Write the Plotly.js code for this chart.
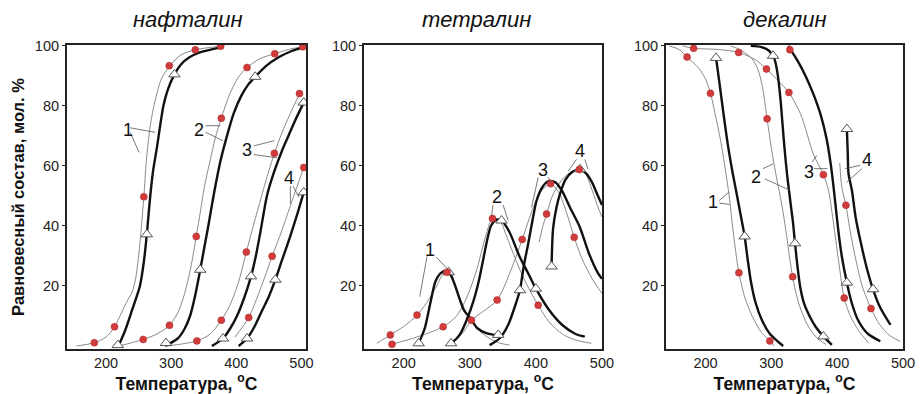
<!DOCTYPE html>
<html>
<head>
<meta charset="utf-8">
<script src="https://cdn.plot.ly/plotly-3.0.1.min.js"></script>
<style>html,body{margin:0;padding:0;background:#fff;}#chart{width:920px;height:394px;}</style>
</head>
<body>
<div id="chart"></div>
<script>
// ---------- Panel titles / axis labels ----------
const panelTitles = ['нафталин', 'тетралин', 'декалин'];
const xTitle = '<b>Температура, <sup>o</sup>C</b>';
const yTitle = '<b>Равновесный состав, мол. %</b>';
const xTicks = [200, 300, 400, 500];
const yTicks = [20, 40, 60, 80, 100];
const seriesNames = ['1', '2', '3', '4'];

// ---------- нафталин ----------
const naphThinX = [
  [155,182,200,213,230,240,245,250,254,258,262,267,273,285,298,315,337,376],
  [220,257,280,297.4,310,320,330,338.5,345,351,360,368,377,390,403,416.5,437,459,480,502],
  [293,320,339.5,360,377,390,403,415.4,426,435,446,458.5,470,483,497],
  [398,419,437,455,470,485,503.6]
];
const naphThinY = [
  [0,1.1,3,6.4,14,18,22,30,39,49.7,62,72,79.5,89,93.4,97,98.7,99.9],
  [0,2.2,4.2,6.9,11,17,26,36.5,45,53,62,69.5,75.9,84,89.5,92.8,95.8,97.4,98.8,99.7],
  [0,0.8,1.7,4,8.6,13.5,21,31.3,40,47,55.5,64.2,71,77.5,84.1],
  [3,9.5,19,29.9,38.5,48,59.5]
];
const naphDotX = [[182,213,258,297,337,376],[257,297.4,338.5,377,416.5,459,502],[339.5,377,415.4,458.5,497],[419,455,503.6]];
const naphDotY = [[1.1,6.4,49.7,93.4,98.7,99.9],[2.2,6.9,36.5,75.9,92.8,97.4,99.7],[1.7,8.6,31.3,64.2,84.1],[9.5,29.9,59.5]];
const naphBoldX = [
  [219,229,240,252,258,262.6,267,272,278,288,295,305,315,328,345,377],
  [291,310,320,329,337,344.6,351,357,365,375,385.7,396,408,418,429,445,465,485,505],
  [362.5,379.5,391,401,412,422.6,430,437,447,458,470,480,490,503.5],
  [403.6,416.5,428,440,450,460,470,482,493,503.5]
];
const naphBoldY = [
  [0,5,12,20,28,37.2,48,58,66,80,85.5,90.5,93.8,96.2,97.9,99.5],
  [0,2.5,5.5,10,17,25.4,33,40,50,61,70,77.5,83.5,87,89.7,93.2,96.2,98.3,99.7],
  [0,2.5,6,10,16,23.2,30,38,50,58,65,70,75,81.1],
  [0,2.5,6.5,12,16.5,22.1,28.5,36,43.5,51.2]
];
const naphTriX = [[218,262.6,305],[292,344.6,429],[379.5,422.6,503.5],[416.5,460,503.5]];
const naphTriY = [[0.3,37.2,90.5],[1,25.4,89.7],[2.5,23.2,81.1],[2.5,22.1,51.2]];

// ---------- тетралин ----------
const tetrThinX = [
  [159.5,179.8,200,220.2,235,250,258,265.6,275,285,294,302.5,315,330,345,360],
  [182.3,220,259.6,280,295,310,322,334.4,345,355,370,385,403.5,420,440,460,484],
  [275,290,302.5,320,341.4,360,379.3,395,408,422.3,435,447,458,470,485,500],
  [405,410,416.2,425,438,451.5,465.7,475,485,494.4,500]
];
const tetrThinY = [
  [0.9,3.7,6.5,10.3,14.5,20,23.5,24.6,21.5,16,11.5,8.6,5,2.5,1,0.3],
  [0.6,3,6.4,10,16,25,35,42.5,42,37,28.5,21,13.6,8,4,2,0.9],
  [1,4.5,8.6,11.5,15.3,24,35.5,45.5,51.5,54.1,51,44,36.2,29,22.5,17.5],
  [34.6,39.5,44,50,55,57.8,59,57.5,52,46,43]
];
const tetrDotX = [[179.8,220.2,265.6],[182.3,259.6,334.4,403.5],[302.5,341.4,379.3,422.3,458],[416.2,465.7]];
const tetrDotY = [[3.7,10.3,24.6],[0.6,6.4,42.5,13.6],[8.6,15.3,35.5,54.1,36.2],[44,58.8]];
const tetrBoldX = [
  [222.7,232,240,248,256,264,270,278,290.9,300,311,325,343],
  [271.7,280,286,295,306,314,320,326,332,340,348,360,375,390,400,420,440,460,474],
  [330,345,358,368,375.8,382,388.3,395,401,410,420,430,440,452,466.7,480,494.4,500],
  [423.7,426,431,436.4,445,455,466.7,476,485,492,500]
];
const tetrBoldY = [
  [0.9,6,14,21.5,24.3,25,24.3,20,12,9.5,6,4.3,3.5],
  [0.9,2.5,4.2,8.5,15.3,22,28.5,35,40,42,41.8,38,30,23.5,19.1,12,7,4,3.1],
  [0.3,2.5,7,13,18.6,27,34,42,48.4,53,55,54.5,51.5,46,39.5,31,24.1,22.4],
  [26.5,39,46,50.6,55.5,58,58.9,57.5,54.5,51,47]
];
const tetrTriX = [[222.7,268,343],[271.7,348,400],[375.8],[423.7,466.7]];
const tetrTriY = [[0.9,24.6,3.7],[0.9,41.8,19.1],[18.6],[26.5,58.9]];

// ---------- декалин ----------
const decThinX = [
  [145,160,172,190,200,207.6,215,223,230,236,241,245,250.8,260,271.3,285,297.7,304],
  [238,255,271,280,286.6,293.6,300,308,316,322,332.4,342,355,368,383],
  [165,182,220,250.4,275,292.6,310,326.7,345,363.8,379.1,386.8,395,403,410.7,420,433,447.8],
  [404,407,413.3,420,427.5,438,451.4,465,480,496]
];
const decThinY = [
  [100,98.8,96.3,92.5,89,84.2,77,68.4,59,50,40,33,24.4,16,9.8,4.5,1.7,0],
  [100,98.5,95.6,92,86.2,75.7,66,56,47,38.6,23,14,7,3,0.5],
  [100,99.2,98.8,97.8,95.5,92.3,88.5,84.5,77,64,57.1,51.9,40,27,16,10,5,1],
  [61,53,46.9,38,29.7,20,12.5,7,3.5,1.5]
];
const decDotX = [[172,207.6,250.8,297.7],[182,293.6,332.4],[250.4,292.6,326.7,328.2,379.1,410.7],[413.3,451.4]];
const decDotY = [[96.3,84.2,24.4,1.7],[99.2,75.7,23.1],[97.8,92.3,84.5,98.7,57.1,16],[46.9,12.5]];
const decBoldX = [
  [216,221,227,234,241,248,254,259.5,264,269,276,286,298,318],
  [268.7,285,297,305,310,314,317,320,324,329,333,336,340,344,350,358,367,379.1,392],
  [326,330,340,352,363.8,375,384,390,394,398,402,407,414.8,422,432,447,465.6],
  [414.8,416,417.3,422.4,428,435.1,445,454.5,465,481]
];
const decBoldY = [
  [96,88,78,67,58,50,43,36.5,29,21.5,14.5,8.5,4,0],
  [100,99.6,98.3,95.5,90,82,74,66,57,48,41,34.2,26,19.5,14,10,6.5,3.2,0.4],
  [100,98.5,95,90,84,77,69,61,54,46,38,30,21.1,14.5,8.5,4,1.6],
  [72.3,65,57.4,51.9,43,35.3,26,18.9,13,7]
];
const decTriX = [[216,259.5],[302.7,336,379.1],[414.8],[414.8,454.5]];
const decTriY = [[96,36.5],[96.7,34.2,3.2],[21.1],[72.3,18.9]];

// ---------- curve number labels and pointer lines ----------
const labelPos = [
  [[234,72],[342,72],[416.5,65.3],[480.5,56]],
  [[240.4,32],[341.4,49.8],[411,58.5],[466.7,65]],
  [[212,48],[277.4,56.3],[357.3,57.9],[445.3,62]]
];
const pointerLines = [
  [[237,72.7,275.4,71.2],[237,71.2,250.8,64.5],[353,73.4,375.4,73.4],[353,71.2,379.5,68.4],
   [427,66.7,458.5,68.4],[427,63.8,462.6,62.7],[483,53.3,483,47.4],[487,53.3,496,49.6]],
  [[235.3,29.8,224.2,16.4],[249.5,29.6,265.6,25.8],[335.3,47,332.8,43.4],[350.5,47,358,41.8],
   [403.5,56.2,393.5,46.2],[418.6,56.2,423.7,54.4],[461.6,62.2,449,58.3],[474,62.2,479,58.9]],
  [[221,48.5,235.6,51.3],[221,47.6,236.6,47.2],[287.5,59.1,302.7,60.7],[290,55.7,328.2,51.9],
   [365,59.1,385.2,59.1],[362,61.3,369,63.5],[435.1,60.2,412.2,59.1],[437.7,59.1,414.8,54.6]]
];

const panels = [
  {thinX: naphThinX, thinY: naphThinY, dotX: naphDotX, dotY: naphDotY, boldX: naphBoldX, boldY: naphBoldY, triX: naphTriX, triY: naphTriY},
  {thinX: tetrThinX, thinY: tetrThinY, dotX: tetrDotX, dotY: tetrDotY, boldX: tetrBoldX, boldY: tetrBoldY, triX: tetrTriX, triY: tetrTriY},
  {thinX: decThinX, thinY: decThinY, dotX: decDotX, dotY: decDotY, boldX: decBoldX, boldY: decBoldY, triX: decTriX, triY: decTriY}
];

const FONT = 'Liberation Sans, Arial, sans-serif';
const traces = [];
panels.forEach((p, i) => {
  const xa = i === 0 ? 'x' : 'x' + (i + 1);
  const ya = i === 0 ? 'y' : 'y' + (i + 1);
  for (let s = 0; s < 4; s++) {
    traces.push({x: p.thinX[s], y: p.thinY[s], xaxis: xa, yaxis: ya, mode: 'lines', name: seriesNames[s],
      line: {color: '#8a8a8a', width: 1, shape: 'spline', smoothing: 0.8}, hoverinfo: 'skip'});
  }
  for (let s = 0; s < 4; s++) {
    traces.push({x: p.boldX[s], y: p.boldY[s], xaxis: xa, yaxis: ya, mode: 'lines', name: seriesNames[s],
      line: {color: '#111111', width: 2.4, shape: 'spline', smoothing: 0.7}, hoverinfo: 'skip'});
  }
  for (let s = 0; s < 4; s++) {
    traces.push({x: p.triX[s], y: p.triY[s], xaxis: xa, yaxis: ya, mode: 'markers', name: seriesNames[s],
      marker: {symbol: 'triangle-up', size: 10, color: '#ffffff', line: {color: '#555555', width: 1}}});
    traces.push({x: p.dotX[s], y: p.dotY[s], xaxis: xa, yaxis: ya, mode: 'markers', name: seriesNames[s],
      marker: {symbol: 'circle', size: 7, color: '#d23b3b', line: {color: '#a82a2a', width: 0.5}}});
  }
});

const doms = [[0.0728, 0.3326], [0.3957, 0.6543], [0.7239, 0.9815]];
const xRanges = [[140, 507], [140, 500], [140, 500]];
const yDom = [0.1142, 0.8858];

const layout = {
  width: 920, height: 394,
  margin: {l: 0, r: 0, t: 0, b: 0},
  paper_bgcolor: '#ffffff', plot_bgcolor: '#ffffff',
  showlegend: false,
  font: {family: FONT, color: '#222222', size: 14},
  annotations: [], shapes: []
};

doms.forEach((d, i) => {
  const xk = i === 0 ? 'xaxis' : 'xaxis' + (i + 1);
  const yk = i === 0 ? 'yaxis' : 'yaxis' + (i + 1);
  const yref = i === 0 ? 'y' : 'y' + (i + 1);
  const xref = i === 0 ? 'x' : 'x' + (i + 1);
  layout[xk] = {
    domain: d, anchor: yref, range: xRanges[i], tickvals: xTicks, ticks: '',
    showline: true, mirror: true, linewidth: 2, linecolor: '#222222',
    showgrid: false, zeroline: false, tickfont: {size: 14.5, family: FONT, color: '#222'},
    title: {text: xTitle, font: {size: 17.5, family: FONT, color: '#111'}, standoff: 1}
  };
  layout[yk] = {
    domain: yDom, anchor: xref, range: [-1, 100.3], tickvals: yTicks, ticks: 'outside', ticklen: 3,
    tickcolor: '#222', showline: true, mirror: true, linewidth: 2, linecolor: '#222222',
    showgrid: false, zeroline: false, tickfont: {size: 14.5, family: FONT, color: '#222'}
  };
  if (i === 0) {
    layout[yk].title = {text: yTitle, font: {size: 16.5, family: FONT, color: '#111'}, standoff: 6};
  }
  layout.annotations.push({
    text: '<i>' + panelTitles[i] + '</i>', xref: 'paper', yref: 'paper',
    x: [0.204, 0.518, 0.853][i], y: 0.95, xanchor: 'center', yanchor: 'middle', showarrow: false,
    font: {size: 22, family: FONT, color: '#111'}
  });
  labelPos[i].forEach((lp, s) => {
    layout.annotations.push({
      text: seriesNames[s], xref: xref, yref: yref, x: lp[0], y: lp[1], showarrow: false,
      xanchor: 'center', yanchor: 'middle', font: {size: 18, family: FONT, color: '#111'}
    });
  });
  pointerLines[i].forEach(pl => {
    layout.shapes.push({type: 'line', xref: xref, yref: yref, x0: pl[0], y0: pl[1], x1: pl[2], y1: pl[3],
      line: {color: '#555555', width: 0.8}});
  });
});

Plotly.newPlot('chart', traces, layout, {staticPlot: true, displayModeBar: false});
</script>
</body>
</html>
